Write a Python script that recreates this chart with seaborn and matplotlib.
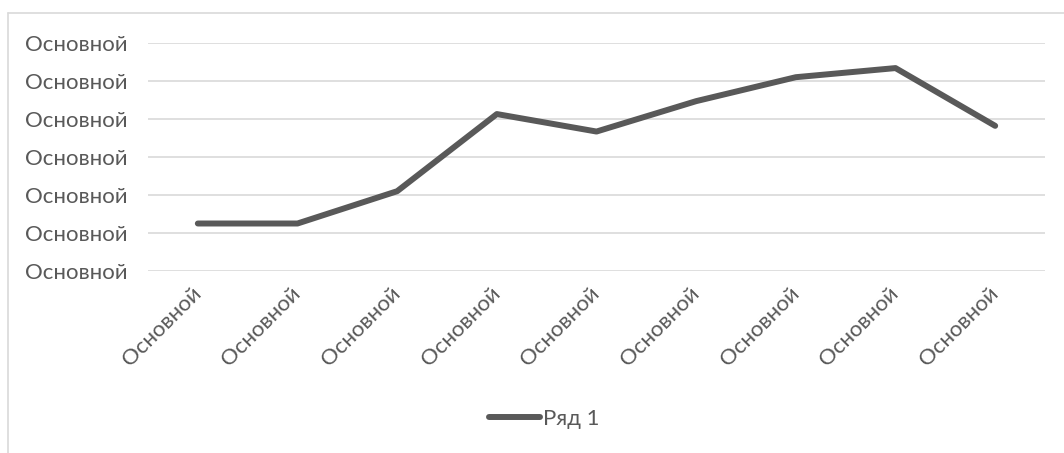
import numpy as np
import pandas as pd
from matplotlib import pyplot as plt
from matplotlib.lines import Line2D
import seaborn as sns

# categories and series values (gridline units, 0 = bottom gridline)
categories = ['Основной'] * 9
series_name = 'Ряд 1'
values = [1.25, 1.25, 2.1, 4.13, 3.67, 4.47, 5.1, 5.34, 3.82]
y_ticks = [0, 1, 2, 3, 4, 5, 6]
y_tick_labels = ['Основной'] * 7

df = pd.DataFrame({'pos': range(len(values)), 'value': values})

sns.set_theme(style='white')
plt.rcParams['font.family'] = ['Lato', 'DejaVu Sans']

text_col = '#595959'
line_col = '#595959'
grid_col = '#D9D9D9'
fsize = 16

fig = plt.figure(figsize=(10.64, 4.53), dpi=100)
ax = fig.add_axes([148 / 1064, (453 - 271) / 453, (1045 - 148) / 1064, (271 - 43) / 453])

sns.lineplot(data=df, x='pos', y='value', ax=ax, color=line_col, linewidth=4.3,
             label=series_name, solid_capstyle='round', solid_joinstyle='round')

ax.set_xlim(-0.5, len(values) - 0.5)
ax.set_ylim(y_ticks[0], y_ticks[-1])
ax.set_yticks(y_ticks)
ax.set_yticklabels(y_tick_labels)
ax.set_xticks(range(len(categories)))
ax.set_xticklabels(categories, rotation=45, ha='right', va='center', rotation_mode='anchor')
ax.set_xlabel('')
ax.set_ylabel('')

ax.grid(axis='y', color=grid_col, linewidth=1.2)
ax.set_axisbelow(True)
for s in ax.spines.values():
    s.set_visible(False)
ax.tick_params(axis='both', length=0, labelsize=fsize, labelcolor=text_col)
ax.tick_params(axis='y', pad=15)
ax.tick_params(axis='x', pad=14)

# legend at the bottom
ax.get_legend().remove()
fig.legend(handles=[Line2D([0], [0], color=line_col, linewidth=4.3, solid_capstyle='round')],
           labels=[series_name], loc='center', bbox_to_anchor=(544 / 1064, 1 - 419 / 453),
           frameon=False, fontsize=fsize, labelcolor=text_col, handlelength=2.3, handletextpad=0.15)

# chart area border (cut off at right and bottom)
fig.add_artist(Line2D([8 / 1064, 8 / 1064], [0, 1 - 13 / 453], color=grid_col, linewidth=1.2,
                      transform=fig.transFigure))
fig.add_artist(Line2D([8 / 1064, 1], [1 - 13 / 453, 1 - 13 / 453], color=grid_col, linewidth=1.2,
                      transform=fig.transFigure))

fig.savefig('out.png', dpi=100)
